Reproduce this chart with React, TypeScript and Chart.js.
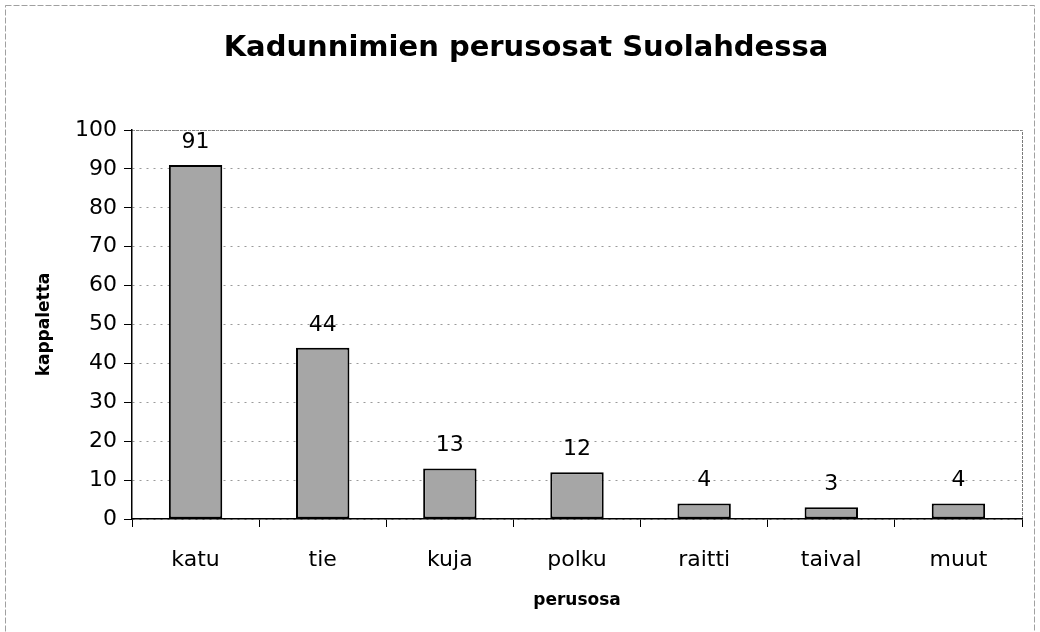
import React, { useEffect, useRef } from "react";
import { Chart, registerables } from "chart.js";

Chart.register(...registerables);

const categories = ["katu", "tie", "kuja", "polku", "raitti", "taival", "muut"];
const values = [91, 44, 13, 12, 4, 3, 4];
const yTicks = [0, 10, 20, 30, 40, 50, 60, 70, 80, 90, 100];
const titleText = "Kadunnimien perusosat Suolahdessa";
const yTitle = "kappaletta";
const xTitle = "perusosa";

const FONT = "'DejaVu Sans', 'Liberation Sans', Arial, sans-serif";

const decor = {
  id: "decor",
  beforeDraw(chart: any) {
    const ctx = chart.ctx;
    const { chartArea } = chart;
    ctx.save();
    ctx.fillStyle = "#ffffff";
    ctx.fillRect(0, 0, chart.width, chart.height);
    // outer frame
    ctx.strokeStyle = "#a0a0a0";
    ctx.lineWidth = 1;
    ctx.setLineDash([6, 2]);
    ctx.strokeRect(5.5, 5.5, chart.width - 11, chart.height - 4);
    ctx.setLineDash([]);
    // plot frame (top and right)
    ctx.strokeStyle = "#7a7a7a";
    ctx.setLineDash([3, 1]);
    ctx.beginPath();
    ctx.moveTo(chartArea.left, chartArea.top + 0.5);
    ctx.lineTo(chartArea.right + 0.5, chartArea.top + 0.5);
    ctx.lineTo(chartArea.right + 0.5, chartArea.bottom);
    ctx.stroke();
    ctx.setLineDash([]);
    ctx.restore();
  },
  afterDraw(chart: any) {
    const ctx = chart.ctx;
    const { chartArea } = chart;
    ctx.save();
    ctx.fillStyle = "#000";
    ctx.textAlign = "center";
    ctx.textBaseline = "middle";
    // title
    ctx.font = `bold 29px ${FONT}`;
    ctx.fillText(titleText, chart.width / 2 + 6, 48);
    // x title
    ctx.font = `bold 17px ${FONT}`;
    ctx.fillText(xTitle, (chartArea.left + chartArea.right) / 2, 601);
    // y title
    ctx.font = `bold 17px ${FONT}`;
    ctx.save();
    ctx.translate(45, (chartArea.top + chartArea.bottom) / 2);
    ctx.rotate(-Math.PI / 2);
    ctx.fillText(yTitle, 0, 0);
    ctx.restore();
    // data labels
    ctx.font = `22px ${FONT}`;
    ctx.textBaseline = "alphabetic";
    const meta = chart.getDatasetMeta(0);
    meta.data.forEach((bar: any, i: number) => {
      ctx.fillText(String(values[i]), bar.x, bar.y - 17);
    });
    ctx.restore();
  },
};

export default function App() {
  const ref = useRef<HTMLCanvasElement>(null);
  useEffect(() => {
    if (!ref.current) return;
    const chart = new Chart(ref.current, {
      type: "bar",
      data: {
        labels: categories,
        datasets: [
          {
            data: values,
            backgroundColor: "#a6a6a6",
            borderColor: "#000000",
            borderWidth: 2,
            borderSkipped: false,
            barPercentage: 0.42,
            categoryPercentage: 1,
          },
        ],
      },
      options: {
        animation: false,
        responsive: false,
        maintainAspectRatio: false,
        layout: { padding: { top: 130, right: 18, left: 0, bottom: 0 } },
        plugins: {
          legend: { display: false },
          title: { display: false },
          tooltip: { enabled: false },
        },
        scales: {
          x: {
            offset: true,
            grid: {
              offset: true,
              drawOnChartArea: false,
              drawTicks: true,
              tickLength: 8,
              color: "#000",
              tickColor: "#000",
            },
            border: { display: true, color: "#000", width: 1.5 },
            ticks: {
              color: "#000",
              padding: 20,
              font: { family: FONT, size: 22 },
              maxRotation: 0,
            },
            afterFit(scale: any) {
              scale.height = 113;
            },
          },
          y: {
            min: 0,
            max: 100,
            afterBuildTicks(scale: any) {
              scale.ticks = yTicks.map((v) => ({ value: v }));
            },
            grid: {
              color: "#9a9a9a",
              tickColor: "#000",
              tickLength: 8,
              lineWidth: 1,
              tickBorderDash: [],
            },
            border: { display: true, color: "#000", width: 1.5, dash: [2, 5] },
            ticks: {
              color: "#000",
              padding: 7,
              font: { family: FONT, size: 22 },
            },
            afterFit(scale: any) {
              scale.width = 132;
            },
          },
        },
      },
      plugins: [decor],
    } as any);
    return () => chart.destroy();
  }, []);
  return (
    <div style={{ position: "fixed", left: 0, top: 0, width: 1040, height: 632, background: "#fff" }}>
      <canvas ref={ref} width={1040} height={632} style={{ display: "block" }} />
    </div>
  );
}
